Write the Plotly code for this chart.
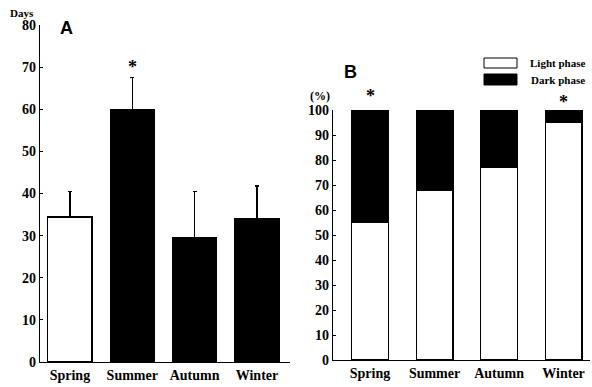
import plotly.graph_objects as go

seasons = ["Spring", "Summer", "Autumn", "Winter"]
days_mean = [34.4, 59.8, 29.6, 34.0]
days_err = [6.0, 7.8, 10.8, 7.8]
light_pct = [55, 68, 77, 95]
dark_pct = [45, 32, 23, 5]
a_ticks = [0, 10, 20, 30, 40, 50, 60, 70, 80]
b_ticks = [0, 10, 20, 30, 40, 50, 60, 70, 80, 90, 100]

W, H = 592, 387
serif = "Liberation Serif"
sans = "Liberation Sans"

fig = go.Figure()

a_colors = ["white", "black", "black", "black"]
fig.add_trace(go.Bar(
    x=seasons, y=days_mean, xaxis="x", yaxis="y",
    marker=dict(color=a_colors, line=dict(color="black", width=1.2)),
    width=0.71,
    error_y=dict(type="data", symmetric=False, array=days_err,
                 arrayminus=[0] * 4, color="black", thickness=1.3, width=2),
    showlegend=False, hoverinfo="skip",
))

fig.add_trace(go.Bar(
    x=seasons, y=light_pct, xaxis="x2", yaxis="y2", name="Light phase",
    marker=dict(color="white", line=dict(color="black", width=1.2)),
    width=0.57, showlegend=False, hoverinfo="skip",
))
fig.add_trace(go.Bar(
    x=seasons, y=dark_pct, xaxis="x2", yaxis="y2", name="Dark phase",
    marker=dict(color="black", line=dict(color="black", width=1.2)),
    width=0.57, showlegend=False, hoverinfo="skip",
))

tickfont = dict(family=serif, size=14, color="black", weight="bold")
xtickfont = dict(family=serif, size=14, color="black", weight="bold")
axis_common = dict(showline=True, linecolor="black", linewidth=1.3,
                   showgrid=False, zeroline=False, automargin=False)

fig.update_layout(
    width=W, height=H,
    margin=dict(l=0, r=0, t=0, b=0),
    paper_bgcolor="white", plot_bgcolor="white",
    barmode="stack",
    xaxis=dict(domain=[40 / W, 290 / W], range=[-0.48, 3.53], type="category",
               ticks="", tickfont=xtickfont, anchor="y", **axis_common),
    yaxis=dict(domain=[1 - 362 / H, 1 - 25 / H], range=[0, 80],
               tickvals=a_ticks, ticks="inside", ticklen=3, tickcolor="black",
               tickfont=tickfont, anchor="x", **axis_common),
    xaxis2=dict(domain=[333 / W, 590 / W], range=[-0.574, 3.41], type="category",
                ticks="", tickfont=xtickfont, anchor="y2", **axis_common),
    yaxis2=dict(domain=[1 - 360 / H, 1 - 110 / H], range=[0, 100],
                tickvals=b_ticks, ticks="inside", ticklen=3, tickcolor="black",
                tickfont=tickfont, anchor="x2", **axis_common),
    font=dict(family=serif, color="black"),
)

ann = []
ann.append(dict(text="<b>Days</b>", x=8 / W, y=1 - 13 / H, xref="paper", yref="paper",
                xanchor="left", yanchor="middle", showarrow=False,
                font=dict(family=serif, size=11, color="black")))
ann.append(dict(text="<b>A</b>", x=58 / W, y=1 - 28 / H, xref="paper", yref="paper",
                xanchor="left", yanchor="middle", showarrow=False,
                font=dict(family=sans, size=18, color="black")))
ann.append(dict(text="<b>B</b>", x=342 / W, y=1 - 72 / H, xref="paper", yref="paper",
                xanchor="left", yanchor="middle", showarrow=False,
                font=dict(family=sans, size=18, color="black")))
ann.append(dict(text="<b>(%)</b>", x=332 / W, y=1 - 96 / H, xref="paper", yref="paper",
                xanchor="right", yanchor="middle", showarrow=False,
                font=dict(family=serif, size=12, color="black")))
# significance stars
ann.append(dict(text="<b>*</b>", x="Summer", y=days_mean[1] + days_err[1] + 2.4,
                xref="x", yref="y", yanchor="middle", showarrow=False,
                font=dict(family=serif, size=18, color="black")))
ann.append(dict(text="<b>*</b>", x="Spring", y=1 - 96 / H, xref="x2", yref="paper",
                yanchor="middle", showarrow=False,
                font=dict(family=serif, size=18, color="black")))
ann.append(dict(text="<b>*</b>", x="Winter", y=1 - 102 / H, xref="x2", yref="paper",
                yanchor="middle", showarrow=False,
                font=dict(family=serif, size=18, color="black")))
# legend text
ann.append(dict(text="<b>Light phase</b>", x=528 / W, y=1 - 63 / H, xref="paper", yref="paper",
                xanchor="left", yanchor="middle", showarrow=False,
                font=dict(family=serif, size=11, color="black")))
ann.append(dict(text="<b>Dark phase</b>", x=529 / W, y=1 - 80 / H, xref="paper", yref="paper",
                xanchor="left", yanchor="middle", showarrow=False,
                font=dict(family=serif, size=11, color="black")))

shapes = [
    dict(type="rect", xref="paper", yref="paper", x0=484 / W, x1=517 / W,
         y0=1 - 68 / H, y1=1 - 58 / H, fillcolor="white",
         line=dict(color="black", width=1)),
    dict(type="rect", xref="paper", yref="paper", x0=484 / W, x1=517 / W,
         y0=1 - 85 / H, y1=1 - 74 / H, fillcolor="black",
         line=dict(color="black", width=1)),
]

fig.update_layout(annotations=ann, shapes=shapes)
fig.write_html("out.html", config={"displayModeBar": False},
               post_script="document.body.style.margin='0px';")
